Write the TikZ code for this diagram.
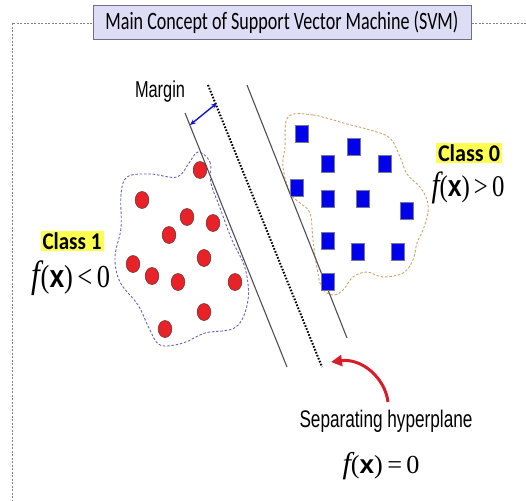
\documentclass[tikz,border=0pt]{standalone}
\usepackage{fontspec}
\usepackage{graphicx}
\setmainfont{Liberation Serif}
\setsansfont{Liberation Sans}
\newfontfamily\carlito{Carlito}
\usetikzlibrary{arrows.meta}
\definecolor{titlefill}{RGB}{221,221,246}
\definecolor{titledraw}{RGB}{110,110,140}
\definecolor{dotred}{RGB}{232,34,40}
\definecolor{dotedge}{RGB}{110,50,50}
\definecolor{sqblue}{RGB}{0,0,235}
\definecolor{sqedge}{RGB}{120,120,150}
\definecolor{blobblue}{RGB}{100,100,200}
\definecolor{bloborange}{RGB}{210,160,110}
\definecolor{arrowred}{RGB}{215,30,40}
\definecolor{hl}{RGB}{255,255,80}
\definecolor{marginblue}{RGB}{20,20,200}
\definecolor{framegray}{RGB}{130,130,130}
\definecolor{linegray}{RGB}{80,80,80}
\tikzset{
  titlebox/.style={draw=titledraw, fill=titlefill, line width=0.8pt, minimum width=378pt, minimum height=34pt, inner sep=0pt},
  hlbox/.style={fill=hl, inner xsep=2pt, inner ysep=1.5pt},
  plain/.style={inner sep=0pt},
  frameline/.style={draw=framegray, line width=0.8pt, dash pattern=on 2pt off 1.5pt},
  solidsep/.style={draw=linegray, line width=1.1pt},
  dotsep/.style={draw=black, line width=2pt, dash pattern=on 1.6pt off 1.6pt},
  redblob/.style={draw=blobblue, line width=0.9pt, dash pattern=on 2.5pt off 1.8pt},
  orangeblob/.style={draw=bloborange, line width=0.9pt, dash pattern=on 2.5pt off 1.8pt},
  reddot/.style={fill=dotred, draw=dotedge, line width=0.6pt},
  bluesq/.style={fill=sqblue, draw=sqedge, line width=0.9pt},
  marginarrow/.style={draw=marginblue, line width=1.4pt, {Stealth[length=6pt,width=5pt]}-{Stealth[length=6pt,width=5pt]}},
  hyperarrow/.style={draw=arrowred, line width=3pt, -{Triangle[length=11pt,width=11pt]}}
}
\begin{document}
\begin{tikzpicture}[x=1pt,y=-1pt]
\useasboundingbox (0,0) rectangle (526,500);
% frame
\coordinate (fr1) at (526,23);
\coordinate (fr2) at (12,23);
\coordinate (fr3) at (12,500);
\draw[frameline] (fr1) -- (fr2) -- (fr3);
% title
\node[titlebox] (title) at (282,22) {\resizebox{353pt}{\height}{\carlito\fontsize{25}{25}\selectfont Main Concept of Support Vector Machine (SVM)}};
% blobs
\draw[redblob] plot[smooth cycle, tension=0.6] coordinates {(198,152) (210,162) (211,183) (220,208) (232,240) (245,268) (248,300) (236,327) (205,333) (183,343) (160,345) (149,328) (138,305) (120,282) (115,257) (121,228) (121,195) (127,177) (150,174) (177,177) (189,163)};
\draw[orangeblob] plot[smooth cycle, tension=0.6] coordinates {(288,117) (313,115) (347,124) (370,130) (390,138) (400,157) (407,174) (420,187) (427,200) (428,213) (423,230) (417,243) (413,260) (403,273) (383,277) (367,272) (353,277) (343,290) (333,295) (322,288) (317,268) (313,240) (310,213) (300,203) (290,193) (283,167) (285,147)};
% separating lines
\coordinate (l1a) at (185,113); \coordinate (l1b) at (287,367);
\coordinate (hpa) at (208,85);  \coordinate (hpb) at (322,367);
\coordinate (l2a) at (247,85);  \coordinate (l2b) at (347,338);
\draw[solidsep] (l1a) -- (l1b);
\draw[dotsep] (hpa) -- (hpb);
\draw[solidsep] (l2a) -- (l2b);
% margin
\coordinate (ma) at (190,125);
\coordinate (mb) at (217,103);
\draw[marginarrow] (ma) -- (mb);
\node[plain] (margin) at (160,92) {\resizebox{50pt}{\height}{\sffamily\fontsize{23}{23}\selectfont Margin}};
% red dots
\foreach \x/\y in {200/170, 142/200, 187/217, 213/223, 169/235, 204/258, 133/264, 152/276, 178/282, 235/282, 204/312, 165/329}
  \draw[reddot] (\x,\y) ellipse [x radius=6.8pt, y radius=8.5pt];
% blue squares
\foreach \x/\y in {302/134, 354/147, 328/164, 385/164, 297/188, 328/199, 363/199, 407/211, 328/241, 358/252, 398/252, 328/282}
  \draw[bluesq] (\x-6.5,\y-8.5) rectangle (\x+6.5,\y+8.5);
% class labels
\node[hlbox] (c1) at (72,241) {\resizebox{59pt}{\height}{\carlito\bfseries\fontsize{24}{24}\selectfont Class 1}};
\node[plain] (f1) at (71,278) {\resizebox{78pt}{\height}{{\fontsize{38}{38}\selectfont\itshape f}{\fontsize{32}{32}\selectfont(\textsf{\bfseries x})\,<\,0}}};
\node[hlbox] (c0) at (469,153) {\resizebox{62pt}{\height}{\carlito\bfseries\fontsize{24}{24}\selectfont Class 0}};
\node[plain] (f0) at (468,188) {\resizebox{73pt}{\height}{{\fontsize{35}{35}\selectfont\itshape f}{\fontsize{30}{30}\selectfont(\textsf{\bfseries x})\,>\,0}}};
% hyperplane label
\node[plain] (sep) at (386,421) {\resizebox{173pt}{\height}{\sffamily\fontsize{24}{24}\selectfont Separating hyperplane}};
\node[plain] (fz) at (381,466) {\resizebox{77pt}{\height}{{\fontsize{30}{30}\selectfont\itshape f}{\fontsize{26}{26}\selectfont(\textsf{\bfseries x})\,=\,0}}};
\coordinate (rs) at (388,402);
\coordinate (re) at (331,362);
\draw[hyperarrow] (rs) .. controls (385,378) and (362,358) .. (re);
\end{tikzpicture}
\end{document}
